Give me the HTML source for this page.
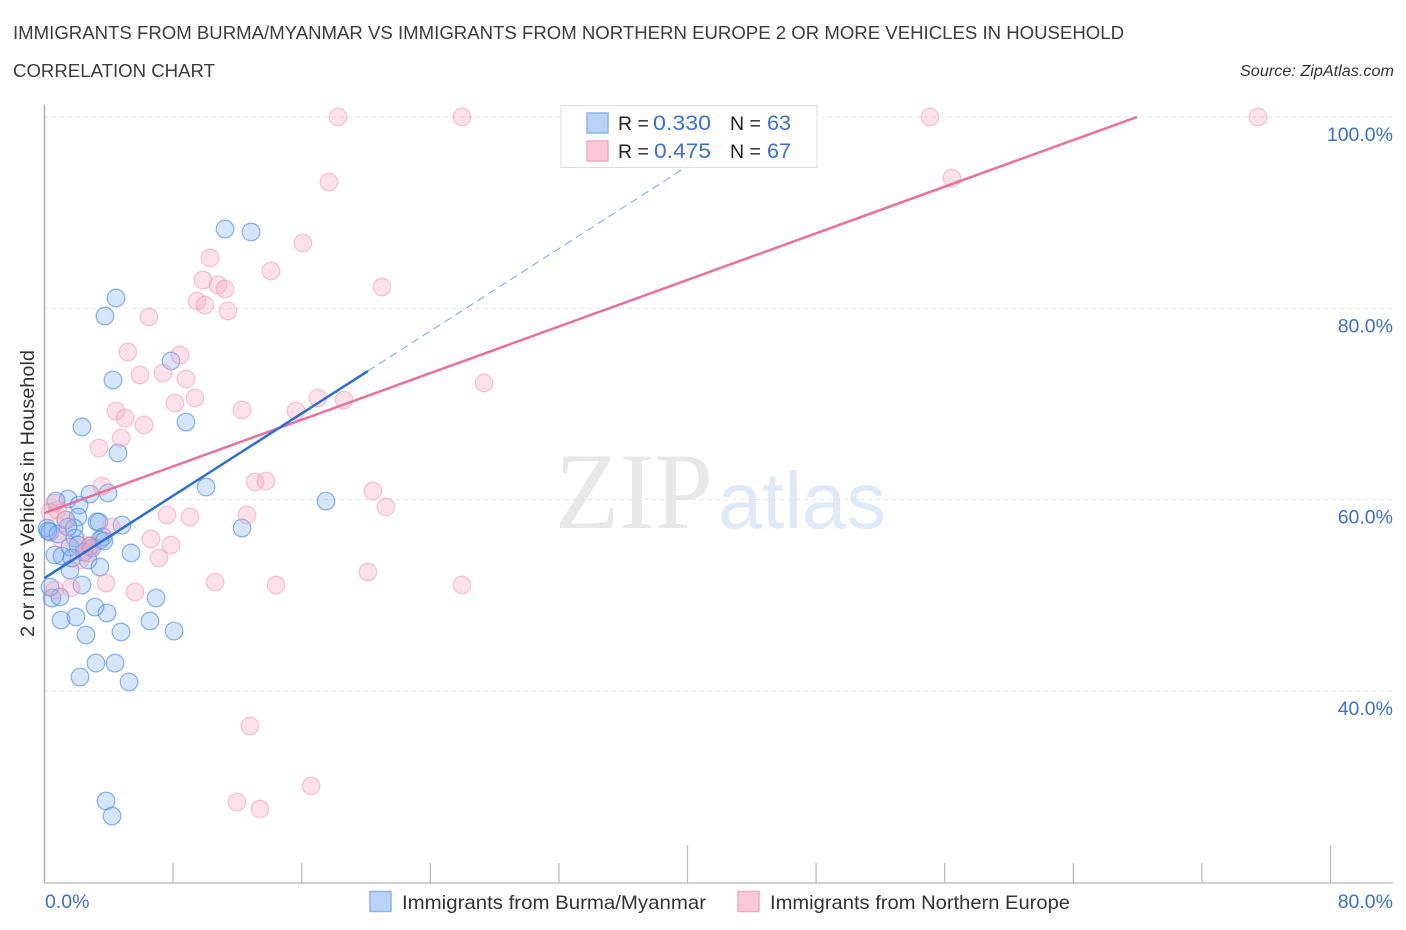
<!DOCTYPE html>
<html lang="en">
<head>
<meta charset="utf-8">
<title>Correlation Chart</title>
<style>
html,body{margin:0;padding:0;background:#fff;}
svg{display:block;font-family:"Liberation Sans",sans-serif;}
</style>
</head>
<body>
<svg id="chart" xmlns="http://www.w3.org/2000/svg" width="1406" height="930" viewBox="0 0 1406 930">
  <rect x="0" y="0" width="1406" height="930" fill="#ffffff"/>
  <text x="13" y="39" font-size="18.5" fill="#3c3c3c" textLength="1111" lengthAdjust="spacingAndGlyphs">IMMIGRANTS FROM BURMA/MYANMAR VS IMMIGRANTS FROM NORTHERN EUROPE 2 OR MORE VEHICLES IN HOUSEHOLD</text>
  <text x="13" y="77" font-size="18.5" fill="#3c3c3c" textLength="202" lengthAdjust="spacingAndGlyphs">CORRELATION CHART</text>
  <text x="1394" y="76" font-size="15.5" font-style="italic" fill="#333333" text-anchor="end" textLength="154" lengthAdjust="spacingAndGlyphs">Source: ZipAtlas.com</text>

  <text x="555" y="528" font-family="'Liberation Serif',serif" font-size="109" fill="#e8e8e8" textLength="158" lengthAdjust="spacingAndGlyphs">ZIP</text>
  <text x="718" y="528" font-size="80" fill="#dfe9f8" textLength="168" lengthAdjust="spacingAndGlyphs">atlas</text>

  <g id="grid"></g>
  <g id="axes"></g>
  <g id="blue-points"></g>
  <g id="pink-points"></g>
  <g id="trends"></g>
  <g id="tick-labels"></g>

  <text transform="translate(34,637) rotate(-90)" x="0" y="0" font-size="19.5" fill="#333333" textLength="287" lengthAdjust="spacingAndGlyphs">2 or more Vehicles in Household</text>

  <g>
    <rect x="561" y="105.5" width="256" height="62" fill="#ffffff" fill-opacity="0.85" stroke="#dddddd" stroke-width="1"/>
    <rect x="587" y="113" width="21" height="20" fill="#b9d3f7" stroke="#8ab4ec" stroke-width="1.5"/>
    <rect x="587" y="141" width="21" height="20" fill="#fbc9d9" stroke="#f3a9c1" stroke-width="1.5"/>
    <text x="618" y="130" font-size="19.5" fill="#222222">R =</text>
    <text x="653" y="130" font-size="21" fill="#3b6fd1" textLength="58" lengthAdjust="spacingAndGlyphs">0.330</text>
    <text x="730" y="130" font-size="19.5" fill="#222222">N =</text>
    <text x="767" y="130" font-size="21" fill="#3b6fd1" textLength="24" lengthAdjust="spacingAndGlyphs">63</text>
    <text x="618" y="158" font-size="19.5" fill="#222222">R =</text>
    <text x="654" y="158" font-size="21" fill="#3b6fd1" textLength="57" lengthAdjust="spacingAndGlyphs">0.475</text>
    <text x="730" y="158" font-size="19.5" fill="#222222">N =</text>
    <text x="767" y="158" font-size="21" fill="#3b6fd1" textLength="24" lengthAdjust="spacingAndGlyphs">67</text>
  </g>

  <g>
    <rect x="370" y="891.5" width="21" height="20" fill="#b9d3f7" stroke="#8ab4ec" stroke-width="1.5"/>
    <text x="402" y="909" font-size="19.5" fill="#333333" textLength="304" lengthAdjust="spacingAndGlyphs">Immigrants from Burma/Myanmar</text>
    <rect x="738" y="891.5" width="21" height="20" fill="#fbc9d9" stroke="#f3a9c1" stroke-width="1.5"/>
    <text x="770" y="909" font-size="19.5" fill="#333333" textLength="300" lengthAdjust="spacingAndGlyphs">Immigrants from Northern Europe</text>
  </g>
</svg>
<script>
var blueX = [11.23,12.85,4.45,3.76,7.87,4.26,8.80,2.33,4.57,10.05,2.83,3.95,1.46,0.72,17.51,2.15,2.08,1.34,3.27,3.39,4.82,12.29,1.84,0.16,0.34,0.84,1.90,3.64,3.45,5.38,2.83,1.59,0.65,1.09,2.46,2.71,3.45,1.59,2.33,0.47,0.96,6.94,3.14,3.89,1.03,1.96,6.56,8.06,2.58,4.76,3.20,4.39,2.21,5.26,3.83,4.20,0.34,0.22,1.46,2.08,3.70,1.71,2.95];
var blueY = [88.29,87.98,81.08,79.19,74.49,72.50,68.11,67.59,64.87,61.32,60.58,60.69,60.06,59.85,59.85,59.43,58.18,57.87,57.66,57.66,57.34,57.03,57.03,57.03,56.61,56.40,55.98,56.09,55.78,54.42,55.15,55.04,54.21,54.10,54.52,53.68,52.95,52.64,51.07,49.71,49.82,49.71,48.77,48.14,47.41,47.73,47.31,46.26,45.84,46.16,42.91,42.91,41.45,40.93,28.49,26.92,50.86,56.72,57.13,55.25,55.67,53.89,54.94];
var pinkX = [18.26,25.97,55.08,75.49,17.70,56.45,16.08,10.30,14.09,9.86,10.79,11.23,20.99,9.49,9.98,11.41,6.50,5.19,8.43,5.94,7.37,8.80,27.34,8.12,9.36,17.01,18.63,4.45,5.01,15.64,12.29,6.19,4.76,3.39,3.58,13.09,13.78,20.43,21.24,0.65,0.78,1.28,7.62,9.05,12.60,4.14,6.62,7.87,7.12,1.09,2.52,2.95,2.21,20.12,10.61,14.40,25.97,3.83,5.63,0.65,1.65,12.78,16.58,11.97,13.40,2.71,0.34];
var pinkY = [100,100,100,100,93.20,93.62,86.83,85.26,83.90,82.96,82.44,82.02,82.23,80.76,80.34,79.72,79.09,75.43,75.12,73.03,73.23,72.61,72.19,70.10,70.62,70.62,70.41,69.26,68.53,69.26,69.37,67.80,66.44,65.39,61.42,61.84,61.94,60.90,59.23,59.64,58.91,57.87,58.39,58.18,58.39,57.13,55.88,55.25,53.89,55.78,55.25,55.25,53.68,52.43,51.38,51.07,51.07,51.28,50.34,50.55,50.76,36.33,30.06,28.38,27.65,54.42,58.70];
var blueTrendX = [0, 20.12];
var blueTrendY = [51.8, 73.44];
var blueDashX = [20.12, 42.64];
var blueDashY = [73.44, 97.7];
var pinkTrendX = [0, 67.96];
var pinkTrendY = [58.6, 100];
var yTicks = [100, 80, 60, 40];
var yTickLabels = ["100.0%", "80.0%", "60.0%", "40.0%"];
var xTicks = [8, 16, 24, 32, 40, 48, 56, 64, 72, 80];
var xMajorTicks = [40, 80];
var xTickLabels = ["0.0%", "80.0%"];

var NS = "http://www.w3.org/2000/svg";
function sx(v){ return 44.5 + v * 16.075; }
function sy(v){ return 117 + (100 - v) * 9.565; }
function make(tag, attrs, parent){
  var el = document.createElementNS(NS, tag);
  for (var k in attrs) { el.setAttribute(k, attrs[k]); }
  parent.appendChild(el);
  return el;
}
var gridG = document.getElementById("grid");
var axesG = document.getElementById("axes");
var labelsG = document.getElementById("tick-labels");
var trendsG = document.getElementById("trends");

yTicks.forEach(function(t, i){
  var g = make("line", {x1:44, x2:1393, y1:sy(t), y2:sy(t), stroke:"#e4e4e4", "stroke-width":1, "stroke-dasharray":"4 4"}, gridG);
  
  
  var l = make("text", {x:1393, y:sy(t)+24, "text-anchor":"end", "font-size":19.5, fill:"#3b6fd1"}, labelsG);
  
  
  l.textContent = yTickLabels[i];
});

var yAxis = make("line", {x1:44.5, x2:44.5, y1:105, y2:883.5, stroke:"#b0b0b0", "stroke-width":1.5}, axesG);


var xAxis = make("line", {x1:44, x2:1393, y1:883, y2:883, stroke:"#c4c4c4", "stroke-width":1.5}, axesG);


xTicks.forEach(function(t){
  var top = xMajorTicks.indexOf(t) >= 0 ? 845 : 863;
  var tick = make("line", {x1:sx(t), x2:sx(t), y1:top, y2:883, stroke:"#bcbcbc", "stroke-width":1.3}, axesG);
  
  
});

var x0 = make("text", {x:45, y:908, "font-size":19.5, fill:"#3b6fd1"}, labelsG);


x0.textContent = xTickLabels[0];
var x1 = make("text", {x:1393, y:908, "text-anchor":"end", "font-size":19.5, fill:"#3b6fd1"}, labelsG);


x1.textContent = xTickLabels[1];

var blueG = document.getElementById("blue-points");
blueX.forEach(function(v, i){
  var c = make("circle", {cx:sx(v), cy:sy(blueY[i]), r:8.8, fill:"#7fb0f0", "fill-opacity":0.32, stroke:"#4a8de2", "stroke-opacity":0.62, "stroke-width":1.3}, blueG);
  
  
});
var pinkG = document.getElementById("pink-points");
pinkX.forEach(function(v, i){
  var c = make("circle", {cx:sx(v), cy:sy(pinkY[i]), r:8.8, fill:"#f5a6c0", "fill-opacity":0.34, stroke:"#ee96b4", "stroke-opacity":0.5, "stroke-width":1.3}, pinkG);
  
  
});

var dash = make("line", {x1:sx(blueDashX[0]), y1:sy(blueDashY[0]), x2:sx(blueDashX[1]), y2:sy(blueDashY[1]), stroke:"#5a8fdc", "stroke-width":1, "stroke-dasharray":"8 5", "stroke-opacity":0.8}, trendsG);


var pinkLine = make("line", {x1:sx(pinkTrendX[0]), y1:sy(pinkTrendY[0]), x2:sx(pinkTrendX[1]), y2:sy(pinkTrendY[1]), stroke:"#e8709c", "stroke-width":2.5}, trendsG);


var blueLine = make("line", {x1:sx(blueTrendX[0]), y1:sy(blueTrendY[0]), x2:sx(blueTrendX[1]), y2:sy(blueTrendY[1]), stroke:"#2a6fd6", "stroke-width":2.5}, trendsG);


</script>
</body>
</html>
